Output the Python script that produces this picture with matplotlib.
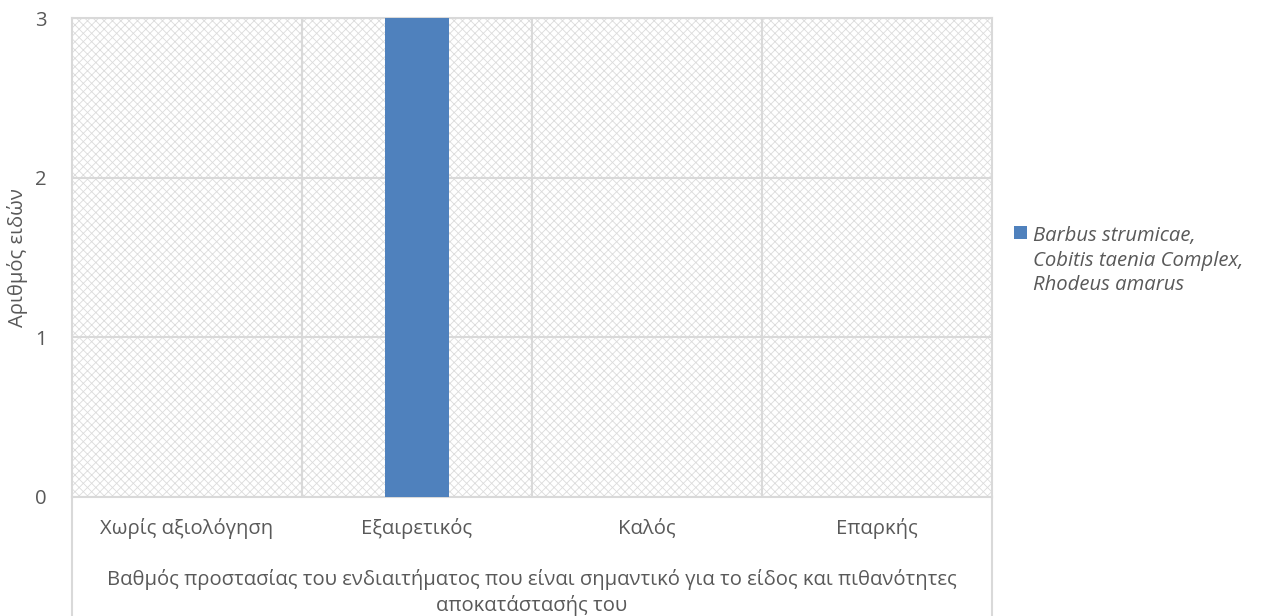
import matplotlib.pyplot as plt
from matplotlib.patches import Rectangle

plt.rcParams['font.family'] = ['Open Sans', 'DejaVu Sans']

categories = ["Χωρίς αξιολόγηση", "Εξαιρετικός", "Καλός", "Επαρκής"]
counts = [0, 3, 0, 0]
series_name = "Barbus strumicae,\nCobitis taenia Complex,\nRhodeus amarus"
y_ticks = [0, 1, 2, 3]
x_title = ("Βαθμός προστασίας του ενδιαιτήματος που είναι σημαντικό για το είδος και πιθανότητες\n"
           "αποκατάστασής του")
y_title = "Αριθμός ειδών"

grid_col = "#d9d9d9"
text_col = "#595959"
bar_col = "#4f81bd"
fs = 14.6

fig = plt.figure(figsize=(12.72, 6.16), dpi=100)
ax = fig.add_axes([72 / 1272, 1 - 497 / 616, 920 / 1272, 479 / 616])

# patterned plot-area background
plt.rcParams['hatch.linewidth'] = 0.6
bg = Rectangle((0, 0), 1, 1, transform=ax.transAxes, facecolor="white",
               edgecolor="#dcdcdc", hatch="xxxx", linewidth=0, zorder=0)
ax.add_patch(bg)

x = list(range(len(categories)))
ax.bar(x, counts, width=0.275, color=bar_col, zorder=3, label=series_name)

ax.set_xlim(-0.5, len(categories) - 0.5)
ax.set_ylim(0, 3)
ax.set_yticks(y_ticks)
ax.set_xticks(x)
ax.set_xticklabels(categories)

# gridlines: horizontal at ticks, vertical at category boundaries
for yv in y_ticks:
    ax.axhline(yv, color=grid_col, lw=1.5, zorder=2)
for b in [i + 0.5 for i in range(len(categories) - 1)]:
    ax.axvline(b, color=grid_col, lw=1.5, zorder=2)

for s in ax.spines.values():
    s.set_color(grid_col)
    s.set_linewidth(1.5)

# outer box lines of the category axis running to the bottom
for xa in (0, 1):
    ax.plot([xa, xa], [0, -0.26], transform=ax.transAxes, color=grid_col,
            lw=1.5, clip_on=False, zorder=5)

ax.tick_params(axis="both", length=0, colors=text_col, labelsize=fs)
ax.tick_params(axis="x", pad=15)
ax.tick_params(axis="y", pad=18)

ax.set_xlabel(x_title, color=text_col, fontsize=fs, labelpad=22, linespacing=1.3)
ax.set_ylabel(y_title, color=text_col, fontsize=fs, labelpad=5)

leg = ax.legend(loc="upper left", bbox_to_anchor=(1004 / 1272, 1 - 216 / 616),
                bbox_transform=fig.transFigure, frameon=False, borderpad=0,
                prop={"style": "italic", "size": fs}, handlelength=0.62,
                handleheight=0.62, handletextpad=0.3, labelcolor=text_col)
leg.get_texts()[0].set_linespacing(1.3)
# keep the colour square beside the first line of the label
for row in leg._legend_handle_box.get_children()[0].get_children():
    row.align = "top"

plt.savefig("out.png", dpi=100)
